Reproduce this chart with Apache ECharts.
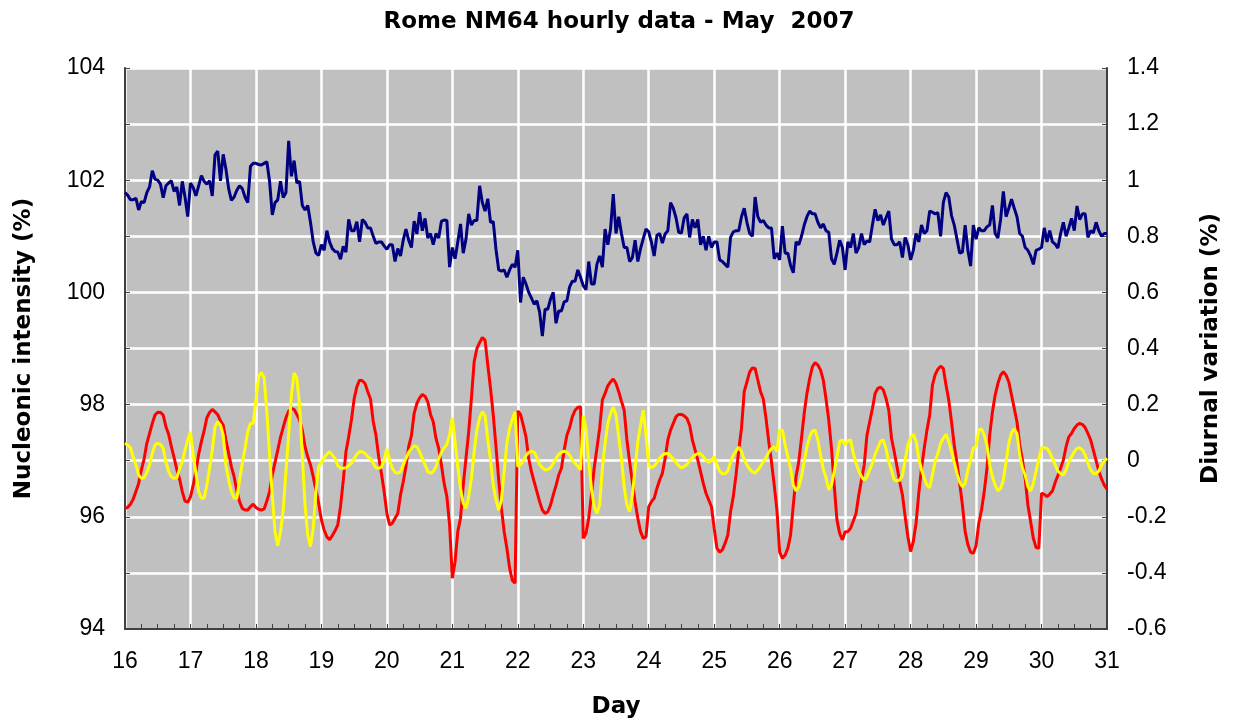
<!DOCTYPE html>
<html><head><meta charset="utf-8">
<script src="https://cdn.jsdelivr.net/npm/echarts@6/dist/echarts.min.js"></script>
<style>html,body{margin:0;padding:0;background:#fff}#c{width:1244px;height:724px}</style>
</head><body><div id="c"></div>
<script>
const chartTitle = 'Rome NM64 hourly data - May  2007';
const xName = 'Day';
const leftName = 'Nucleonic intensity (%)';
const rightName = 'Diurnal variation (%)';
const dayStart = 16, dayEnd = 31;
const hoursPerDay = 24;

// Hourly nucleonic intensity (%), 16 May 00h .. 31 May 00h
const nucleonic = [
101.78,101.73,101.65,101.65,101.68,101.47,101.62,101.60,101.78,101.88,102.17,102.02,102.00,101.93,101.69,101.90,101.95,101.99,101.80,101.88,101.55,101.98,101.70,101.35,
101.95,101.87,101.72,101.90,102.08,101.98,101.93,101.99,101.72,102.45,102.52,101.99,102.46,102.20,101.85,101.64,101.70,101.82,101.90,101.85,101.70,101.60,102.25,102.30,
102.30,102.28,102.27,102.30,102.33,101.98,101.38,101.60,101.65,101.98,101.69,101.78,102.70,102.07,102.35,101.95,101.98,101.55,101.47,101.55,101.25,100.90,100.70,100.66,
100.85,100.75,101.10,100.90,100.78,100.73,100.72,100.59,100.82,100.72,101.30,101.10,101.10,101.26,100.90,101.30,101.25,101.15,101.15,101.00,100.87,100.90,100.90,100.83,
100.77,100.85,100.85,100.55,100.78,100.65,100.93,101.13,100.93,100.80,101.27,101.04,101.43,101.10,101.32,100.97,101.05,100.85,101.05,100.97,101.27,101.29,101.28,100.45,
100.80,100.60,100.90,101.22,100.70,100.95,101.40,101.20,101.28,101.28,101.90,101.60,101.45,101.67,101.25,101.26,100.77,100.40,100.38,100.40,100.27,100.40,100.50,100.45,
100.75,99.82,100.27,100.15,100.00,99.90,99.79,99.85,99.65,99.22,99.70,99.70,99.88,100.00,99.45,99.67,99.67,99.83,99.85,100.10,100.20,100.20,100.40,100.27,
100.12,100.05,100.55,100.15,100.15,100.50,100.65,100.45,101.13,100.85,101.13,101.75,101.05,101.35,101.05,100.80,100.80,100.55,100.62,100.93,100.55,100.78,100.96,101.13,
101.08,100.89,100.65,101.02,101.05,100.88,101.04,101.10,101.60,101.50,101.33,101.07,101.06,101.33,101.40,100.98,101.30,101.15,101.30,100.85,101.00,100.75,101.00,100.80,
100.90,100.90,100.58,100.55,100.50,100.45,100.98,101.08,101.10,101.10,101.35,101.50,101.25,101.05,101.00,101.70,101.35,101.25,101.28,101.20,101.15,101.15,100.60,100.70,
100.58,101.18,100.70,100.70,100.48,100.35,100.90,100.85,101.00,101.20,101.35,101.45,101.40,101.40,101.25,101.15,101.22,101.10,101.07,100.60,100.50,100.70,100.93,100.80,
100.40,100.90,100.80,101.05,100.70,100.80,101.05,100.85,100.92,100.90,101.20,101.48,101.28,101.38,101.20,101.33,101.45,100.95,100.85,100.85,100.90,100.62,100.98,100.85,
100.58,100.75,101.05,100.90,101.20,101.05,101.10,101.45,101.43,101.40,101.42,101.00,101.60,101.78,101.70,101.37,101.20,100.95,100.70,100.72,101.20,100.75,100.47,101.20,
100.95,101.15,101.10,101.10,101.17,101.20,101.55,101.05,100.97,101.30,101.80,101.35,101.50,101.66,101.50,101.35,101.05,101.00,100.80,100.75,100.65,100.50,100.75,100.77,
100.80,101.15,100.90,101.10,100.90,100.86,100.79,101.05,101.25,101.00,101.15,101.32,101.10,101.54,101.30,101.40,101.40,100.98,101.10,101.06,101.25,101.10,101.00,101.05,
101.05
];

// Diurnal variation (%), red curve
const diurnalRed = [
-0.170,-0.166,-0.155,-0.137,-0.110,-0.081,-0.033,0.006,0.062,0.097,0.133,0.163,0.173,0.172,0.163,0.121,0.094,0.050,0.011,-0.032,-0.065,-0.110,-0.144,-0.148,
-0.129,-0.087,-0.039,0.023,0.068,0.106,0.153,0.172,0.183,0.174,0.164,0.142,0.127,0.074,0.026,-0.021,-0.057,-0.108,-0.146,-0.170,-0.176,-0.176,-0.164,-0.155,
-0.167,-0.173,-0.176,-0.172,-0.144,-0.110,-0.051,-0.006,0.038,0.083,0.119,0.153,0.177,0.186,0.183,0.165,0.145,0.109,0.050,0.014,-0.015,-0.057,-0.104,-0.152,
-0.211,-0.247,-0.271,-0.282,-0.267,-0.250,-0.229,-0.164,-0.072,0.032,0.085,0.145,0.220,0.264,0.287,0.285,0.275,0.246,0.220,0.140,0.091,0.014,-0.045,-0.110,
-0.188,-0.229,-0.223,-0.205,-0.188,-0.122,-0.075,-0.021,0.050,0.089,0.169,0.204,0.224,0.236,0.230,0.210,0.165,0.139,0.080,0.044,-0.015,-0.081,-0.128,-0.229,
-0.419,-0.360,-0.253,-0.205,-0.087,0.008,0.103,0.222,0.353,0.400,0.421,0.439,0.430,0.341,0.258,0.163,0.050,-0.069,-0.170,-0.253,-0.312,-0.383,-0.427,-0.437,
0.177,0.165,0.127,0.085,0.008,-0.039,-0.075,-0.110,-0.146,-0.176,-0.188,-0.182,-0.158,-0.122,-0.089,-0.051,-0.027,0.038,0.091,0.118,0.157,0.180,0.190,0.192,
-0.277,-0.259,-0.205,-0.122,-0.027,0.044,0.115,0.216,0.240,0.267,0.281,0.291,0.275,0.246,0.212,0.180,0.074,-0.004,-0.075,-0.146,-0.205,-0.253,-0.277,-0.271,
-0.164,-0.146,-0.134,-0.099,-0.069,-0.045,0.008,0.074,0.109,0.133,0.157,0.165,0.165,0.160,0.151,0.127,0.074,0.038,0.002,-0.039,-0.081,-0.116,-0.140,-0.164,
-0.241,-0.312,-0.326,-0.318,-0.294,-0.265,-0.182,-0.128,-0.051,0.038,0.115,0.246,0.281,0.317,0.331,0.329,0.287,0.246,0.220,0.151,0.068,-0.004,-0.087,-0.176,
-0.326,-0.348,-0.336,-0.312,-0.265,-0.158,-0.057,-0.004,0.080,0.169,0.240,0.293,0.335,0.350,0.341,0.323,0.287,0.220,0.145,0.044,-0.087,-0.211,-0.259,-0.282,
-0.253,-0.253,-0.241,-0.215,-0.188,-0.122,-0.069,-0.015,0.091,0.139,0.186,0.240,0.258,0.262,0.252,0.222,0.180,0.080,0.032,-0.021,-0.075,-0.122,-0.199,-0.271,
-0.324,-0.288,-0.223,-0.116,-0.027,0.044,0.109,0.163,0.269,0.307,0.326,0.337,0.329,0.269,0.216,0.139,0.056,-0.009,-0.081,-0.158,-0.253,-0.299,-0.326,-0.330,
-0.303,-0.223,-0.176,-0.110,-0.027,0.091,0.174,0.234,0.275,0.305,0.317,0.305,0.281,0.234,0.186,0.139,0.056,0.002,-0.063,-0.158,-0.217,-0.277,-0.310,-0.312,
-0.116,-0.120,-0.128,-0.119,-0.108,-0.078,-0.053,-0.027,0.002,0.050,0.085,0.097,0.115,0.127,0.133,0.129,0.118,0.097,0.074,0.038,0.000,-0.037,-0.065,-0.087,
-0.101
];

// Diurnal variation (%), yellow curve
const diurnalYellow = [
0.062,0.056,0.046,0.014,-0.015,-0.051,-0.063,-0.061,-0.042,-0.015,0.026,0.056,0.062,0.058,0.044,-0.004,-0.039,-0.057,-0.063,-0.061,-0.030,-0.004,0.038,0.074,
0.103,0.020,-0.045,-0.110,-0.134,-0.134,-0.087,-0.027,0.038,0.121,0.139,0.127,0.091,-0.015,-0.069,-0.110,-0.134,-0.134,-0.069,-0.009,0.044,0.103,0.133,0.133,
0.216,0.299,0.315,0.296,0.174,0.020,-0.122,-0.253,-0.303,-0.253,-0.176,-0.039,0.091,0.234,0.313,0.293,0.198,0.020,-0.158,-0.265,-0.306,-0.241,-0.110,-0.021,
-0.006,0.011,0.023,0.032,0.020,0.008,-0.018,-0.027,-0.027,-0.025,-0.018,-0.009,0.008,0.023,0.032,0.032,0.026,0.014,0.008,-0.009,-0.025,-0.027,-0.023,0.002,
0.042,0.002,-0.027,-0.042,-0.044,-0.039,-0.015,0.008,0.030,0.044,0.053,0.050,0.032,0.008,-0.015,-0.039,-0.045,-0.039,-0.021,0.006,0.030,0.046,0.058,0.094,
0.153,0.068,-0.021,-0.099,-0.152,-0.170,-0.128,-0.063,0.032,0.109,0.153,0.174,0.160,0.074,0.002,-0.087,-0.140,-0.176,-0.140,-0.039,0.062,0.115,0.148,0.174,
-0.021,-0.015,-0.001,0.018,0.030,0.034,0.030,0.011,-0.013,-0.025,-0.033,-0.031,-0.025,-0.009,0.008,0.023,0.030,0.034,0.030,0.020,0.002,-0.009,-0.020,-0.033,
0.160,0.115,-0.004,-0.099,-0.164,-0.188,-0.158,-0.027,0.062,0.133,0.169,0.191,0.163,0.085,0.008,-0.093,-0.158,-0.182,-0.122,-0.027,0.068,0.127,0.180,0.091,
-0.015,-0.025,-0.019,-0.006,0.008,0.020,0.025,0.026,0.017,0.006,-0.006,-0.018,-0.025,-0.021,-0.013,-0.001,0.011,0.020,0.026,0.025,0.014,0.002,-0.006,0.002,
0.014,-0.015,-0.037,-0.047,-0.046,-0.037,-0.004,0.020,0.034,0.049,0.032,0.005,-0.015,-0.030,-0.040,-0.044,-0.033,-0.020,-0.004,0.011,0.030,0.044,0.049,0.034,
0.109,0.109,0.056,0.014,-0.027,-0.087,-0.108,-0.093,-0.057,-0.004,0.050,0.085,0.106,0.109,0.074,0.020,-0.030,-0.061,-0.104,-0.087,-0.039,0.014,0.068,0.074,
0.056,0.071,0.074,0.026,-0.009,-0.037,-0.057,-0.069,-0.057,-0.033,-0.009,0.023,0.046,0.070,0.074,0.042,-0.004,-0.033,-0.069,-0.072,-0.069,-0.053,0.002,0.056,
0.082,0.094,0.070,0.008,-0.033,-0.061,-0.087,-0.096,-0.051,-0.001,0.026,0.062,0.080,0.094,0.068,0.034,-0.006,-0.045,-0.077,-0.093,-0.081,-0.033,0.002,0.046,
0.050,0.109,0.113,0.091,0.056,-0.015,-0.057,-0.087,-0.108,-0.099,-0.069,-0.004,0.062,0.101,0.113,0.097,0.020,-0.027,-0.051,-0.093,-0.108,-0.081,-0.037,0.006,
0.046,0.046,0.044,0.030,0.008,-0.015,-0.037,-0.046,-0.051,-0.033,-0.004,0.014,0.032,0.044,0.046,0.038,0.020,-0.009,-0.033,-0.046,-0.046,-0.037,-0.015,-0.001,
0.008
];

const toPairs = arr => arr.map((v, i) => [dayStart + i / hoursPerDay, v]);

const labelFont = 'Liberation Sans, Arial, sans-serif';
const nameFont = 'DejaVu Sans, Verdana, sans-serif';
const axisColor = '#404040';
const nameStyle = { fontFamily: nameFont, fontWeight: 'bold', fontSize: 23, color: '#000' };

const chart = echarts.init(document.getElementById('c'), null, { renderer: 'canvas' });
chart.setOption({
  animation: false,
  backgroundColor: '#ffffff',
  title: {
    text: chartTitle,
    left: 614, top: 6, textAlign: 'center',
    textStyle: { fontFamily: nameFont, fontWeight: 'bold', fontSize: 23, color: '#000' }
  },
  grid: { left: 125, right: 137, top: 68, bottom: 94, show: true, backgroundColor: '#C0C0C0', borderWidth: 0, containLabel: false },
  xAxis: {
    type: 'value', min: dayStart, max: dayEnd, interval: 1,
    name: xName, nameLocation: 'middle', nameGap: 67, nameTextStyle: nameStyle,
    axisLine: { show: true, onZero: false, lineStyle: { color: axisColor, width: 2 } },
    axisTick: { show: true, inside: true, length: 5, lineStyle: { color: axisColor, width: 1 } },
    minorTick: { show: true, splitNumber: 4, length: 5, lineStyle: { color: axisColor, width: 1 } },
    axisLabel: { fontFamily: labelFont, fontSize: 23, color: '#000', margin: 21 },
    splitLine: { show: true, lineStyle: { color: '#ffffff', width: 2.5 } }
  },
  yAxis: [
    {
      type: 'value', position: 'left', min: 94, max: 104, interval: 1,
      name: leftName, nameLocation: 'middle', nameGap: 89, nameRotate: 90, nameTextStyle: nameStyle,
      axisLine: { show: true, lineStyle: { color: axisColor, width: 2 } },
      axisTick: { show: true, inside: true, length: 5, lineStyle: { color: axisColor, width: 1 } },
      axisLabel: { fontFamily: labelFont, fontSize: 23, color: '#000', margin: 20,
        formatter: v => (Math.round(v) % 2 === 0 ? String(Math.round(v)) : '') },
      splitLine: { show: true, lineStyle: { color: '#ffffff', width: 2.5 } }
    },
    {
      type: 'value', position: 'right', min: -0.6, max: 1.4, interval: 0.2,
      name: rightName, nameLocation: 'middle', nameGap: 93, nameRotate: 90, nameTextStyle: nameStyle,
      axisLine: { show: true, lineStyle: { color: axisColor, width: 2 } },
      axisTick: { show: true, inside: true, length: 5, lineStyle: { color: axisColor, width: 1 } },
      axisLabel: { fontFamily: labelFont, fontSize: 23, color: '#000', margin: 20,
        formatter: v => String(Math.round(v * 10) / 10) },
      splitLine: { show: false }
    }
  ],
  series: [
    { type: 'line', name: 'Nucleonic intensity', yAxisIndex: 0, data: toPairs(nucleonic),
      showSymbol: false, symbol: 'none', lineStyle: { color: '#000080', width: 3 }, z: 3 },
    { type: 'line', name: 'Diurnal red', yAxisIndex: 1, data: toPairs(diurnalRed),
      showSymbol: false, symbol: 'none', lineStyle: { color: '#FF0000', width: 3 }, z: 4 },
    { type: 'line', name: 'Diurnal yellow', yAxisIndex: 1, data: toPairs(diurnalYellow),
      showSymbol: false, symbol: 'none', lineStyle: { color: '#FFFF00', width: 3 }, z: 5 }
  ]
});
</script>
</body></html>
